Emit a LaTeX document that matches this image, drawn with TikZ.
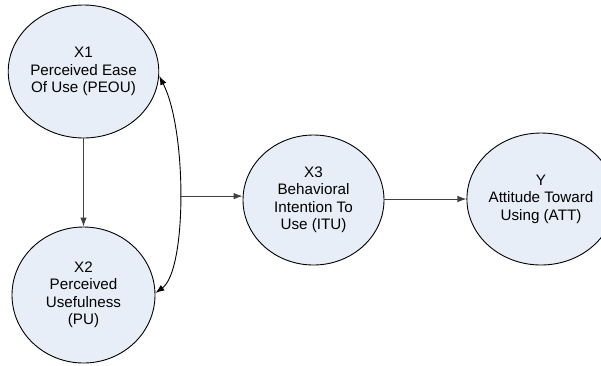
\documentclass[tikz,border=0pt]{standalone}
\usepackage{fontspec}
\setmainfont{Liberation Sans}
\usetikzlibrary{shapes.geometric,arrows.meta}
\definecolor{nodefill}{RGB}{232,238,247}
\definecolor{edgegrey}{RGB}{64,64,64}
\begin{document}
\begin{tikzpicture}[x=1pt,y=-1pt,
  construct/.style={ellipse,draw=black,line width=0.9pt,fill=nodefill,inner sep=0pt,
    align=center,font=\fontsize{15.2}{17.5}\selectfont},
  link/.style={draw=edgegrey,line width=1pt,-{Latex[length=9pt,width=6.5pt]}},
  covar/.style={draw=black,line width=0.9pt,{Latex[length=9pt,width=6.5pt]}-{Latex[length=9pt,width=6.5pt]}}]
\useasboundingbox (0,0) rectangle (601,365);
\begin{scope}
\clip (0,0) rectangle (601,365);
\node[construct,minimum width=143pt,minimum height=133pt] (x1) at (83.5,71.5) {X1\\Perceived Ease\\Of Use (PEOU)};
\node[construct,minimum width=143pt,minimum height=136pt] (x2) at (83.5,295) {X2\\Perceived\\Usefulness\\(PU)};
\node[construct,minimum width=141pt,minimum height=130pt] (x3) at (313.5,200) {X3\\Behavioral\\Intention To\\Use (ITU)};
\node[construct,minimum width=140pt,minimum height=132pt] (y) at (541,199) {Y\\Attitude Toward\\Using (ATT)};
\end{scope}
\draw[link] (x1.south) -- (x2.north);
\draw[covar] (x1.east |- 0,76) .. controls (187,130) and (187,270) .. (x2.east |- 0,293)
  coordinate[pos=0.5] (j);
\draw[link] (j) -- (j -| x3.west);
\draw[link] (x3.east |- 0,199) -- (y.west |- 0,199);
\end{tikzpicture}
\end{document}
